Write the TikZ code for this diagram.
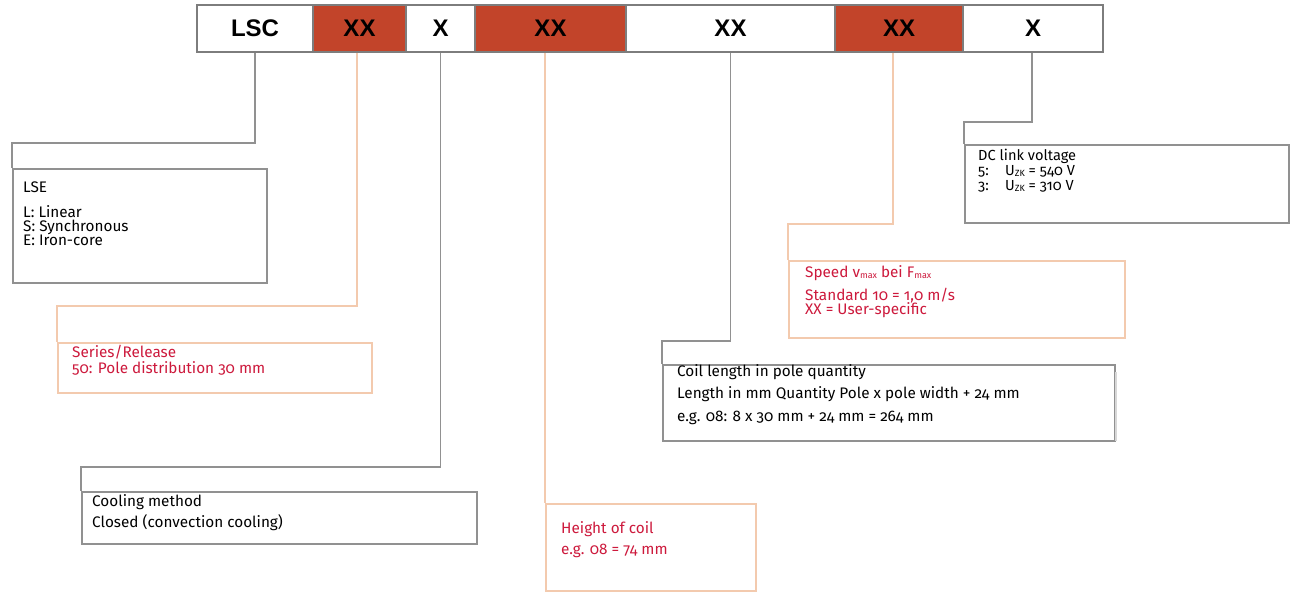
\documentclass[tikz,border=0pt]{standalone}
\usepackage{fontspec}
\setmainfont{Fira Sans}[Numbers=OldStyle]
\newfontfamily\barfont{Liberation Sans}
\definecolor{segred}{RGB}{194,68,42}
\definecolor{barline}{RGB}{125,125,125}
\definecolor{conngray}{RGB}{145,145,145}
\definecolor{connorange}{RGB}{243,202,174}
\definecolor{txtred}{RGB}{205,25,60}
\definecolor{faint}{RGB}{215,215,215}
\newcommand{\sbs}[1]{\raisebox{-1.5pt}{\fontsize{9}{9}\selectfont #1}}
\begin{document}
\begin{tikzpicture}[x=1pt,y=-1pt,
  seg/.style={draw=barline,line width=1.5pt,minimum height=47pt,inner sep=0pt,
    font=\barfont\bfseries\fontsize{24}{26}\selectfont},
  redseg/.style={seg,fill=segred},
  graybox/.style={draw=conngray,line width=1.8pt,rectangle,inner sep=0pt,anchor=north west},
  orabox/.style={draw=connorange,line width=1.8pt,rectangle,inner sep=0pt,anchor=north west},
  grayline/.style={draw=conngray,line width=1.8pt},
  oraline/.style={draw=connorange,line width=1.8pt},
  txt/.style={anchor=base west,inner sep=0pt,font=\fontsize{15.3}{16}\selectfont},
  rtxt/.style={txt,text=txtred},
  dctxt/.style={txt,font=\fontsize{14.6}{15}\selectfont}]
\useasboundingbox[fill=white] (0,0) rectangle (1294,592);

% code bar
\node[seg,minimum width=116pt] (s1) at (255,28.5) {LSC};
\node[redseg,minimum width=93pt] (s2) at (359.5,28.5) {XX};
\node[seg,minimum width=69pt] (s3) at (440.5,28.5) {X};
\node[redseg,minimum width=151pt] (s4) at (550.5,28.5) {XX};
\node[seg,minimum width=209pt] (s5) at (730.5,28.5) {XX};
\node[redseg,minimum width=128pt] (s6) at (899,28.5) {XX};
\node[seg,minimum width=140pt] (s7) at (1033,28.5) {X};

% boxes
\node[graybox,minimum width=254pt,minimum height=114pt] (lse) at (12,168) {};
\node[orabox,minimum width=314pt,minimum height=50pt] (ser) at (57,342) {};
\node[graybox,minimum width=395pt,minimum height=52pt] (cool) at (81,491) {};
\node[orabox,minimum width=210pt,minimum height=87pt] (hgt) at (545,503) {};
\node[graybox,minimum width=452pt,minimum height=76pt] (coil) at (662,364) {};
\node[orabox,minimum width=336pt,minimum height=77pt] (spd) at (788,260) {};
\node[graybox,minimum width=324pt,minimum height=78pt] (dc) at (964,144) {};
\draw[draw=faint,line width=1.8pt] ([yshift=-8pt]coil.north east) -- ([yshift=1pt]coil.south east);

% connectors
\coordinate (h1) at (12,143);
\coordinate (h2) at (57,306);
\coordinate (h3) at (81,467);
\coordinate (h5) at (662,341);
\coordinate (h6) at (788,224);
\coordinate (h7) at (964,122);
\draw[grayline] (s1.south) |- (h1) -- (lse.north west);
\draw[oraline] ([xshift=-2.5pt]s2.south) |- (h2) -- (ser.north west);
\draw[grayline] (s3.south) |- (h3) -- (cool.north west);
\draw[oraline] (hgt.north west |- s4.south) -- (hgt.north west);
\draw[grayline] (s5.south) |- (h5) -- (coil.north west);
\draw[oraline] ([xshift=-6pt]s6.south) |- (h6) -- (spd.north west);
\draw[grayline] ([xshift=-1pt]s7.south) |- (h7) -- (dc.north west);

% texts
\node[txt] (lse1) at (23,192) {LSE};
\node[txt] (lse2) at (23,217) {L: Linear};
\node[txt] (lse3) at (23,231) {S: Synchronous};
\node[txt] (lse4) at (23,245) {E: Iron-core};

\node[rtxt] (ser1) at (72,357) {Series/Release};
\node[rtxt] (ser2) at (72,373) {50: Pole distribution 30 mm};

\node[txt] (cool1) at (92,506) {Cooling method};
\node[txt] (cool2) at (92,527) {Closed (convection cooling)};

\node[rtxt] (hgt1) at (561,533) {Height of coil};
\node[rtxt] (hgt2) at (561,554) {e.g. 08 = 74 mm};

\node[txt] (coil1) at (677,376) {Coil length in pole quantity};
\node[txt] (coil2) at (677,398) {Length in mm Quantity Pole x pole width + 24 mm};
\node[txt] (coil3) at (677,421) {e.g. 08: 8 x 30 mm + 24 mm = 264 mm};

\node[rtxt] (spd1) at (805,277) {Speed v\sbs{max} bei F\sbs{max}};
\node[rtxt] (spd2) at (805,300) {Standard 10 = 1,0 m/s};
\node[rtxt] (spd3) at (805,314) {XX = User-specific};

\node[dctxt] (dc1) at (978,160) {DC link voltage};
\node[dctxt] (dc2) at (978,175) {\makebox[27pt][l]{5:}U\sbs{ZK} = 540 V};
\node[dctxt] (dc3) at (978,190) {\makebox[27pt][l]{3:}U\sbs{ZK} = 310 V};
\end{tikzpicture}
\end{document}
